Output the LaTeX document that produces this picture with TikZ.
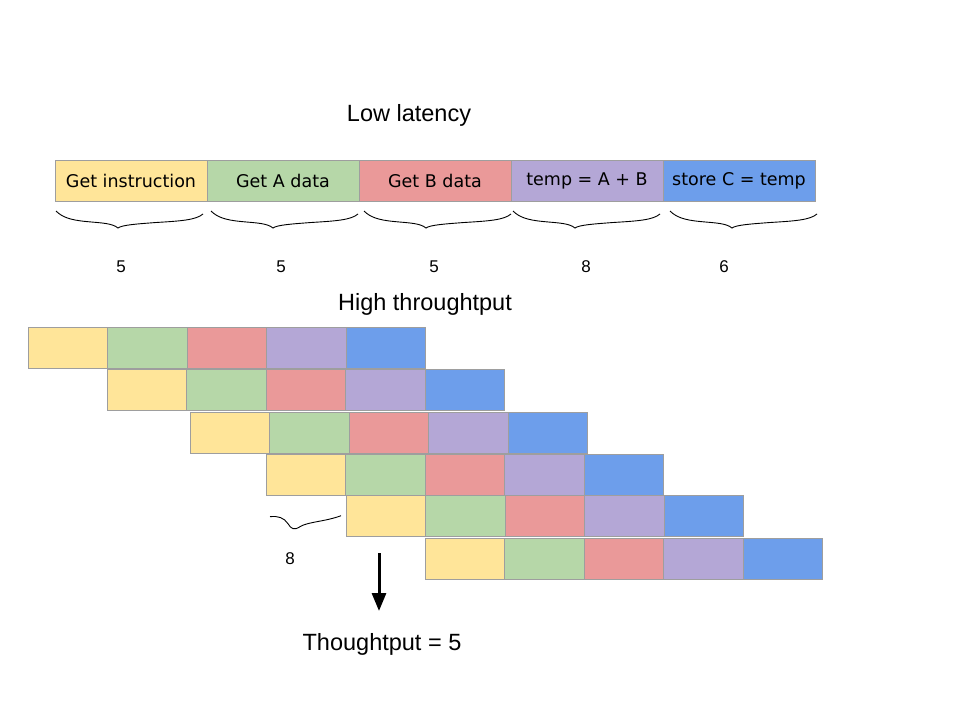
\documentclass[tikz,border=0pt]{standalone}
\usepackage{fontspec}
\setmainfont{Liberation Sans}
\newfontfamily\boxfont{DejaVu Sans}
\usepackage{tikz}
\usetikzlibrary{arrows.meta, positioning}
\definecolor{stageyellow}{HTML}{FFE599}
\definecolor{stagegreen}{HTML}{B6D7A8}
\definecolor{stagered}{HTML}{EA9999}
\definecolor{stagepurple}{HTML}{B4A7D6}
\definecolor{stageblue}{HTML}{6D9EEB}
\definecolor{edgegray}{HTML}{9E9E9E}

\begin{document}
\begin{tikzpicture}[
    x=1pt, y=-1pt,
    node distance=0pt,
    stagebox/.style={rectangle, draw=edgegray, line width=0.8pt, outer sep=0pt, inner sep=0pt, minimum width=152pt, minimum height=41pt, font=\boxfont\fontsize{17.5}{20}\selectfont},
    pipebox/.style={rectangle, draw=edgegray, line width=0.8pt, outer sep=0pt, inner sep=0pt, minimum width=79.5pt, minimum height=41.5pt, anchor=north west},
    brace/.style={line width=0.9pt, black},
    title/.style={font=\fontsize{23.5}{28}\selectfont},
    count/.style={font=\fontsize{17}{20}\selectfont},
    arrow/.style={-{Triangle[length=18pt,width=14pt]}, line width=3pt}
]
\useasboundingbox (0,0) rectangle (960,720);

% low latency: one instruction after the other
\node[title] (lowlat) at (409,115) {Low latency};

\node[stagebox, fill=stageyellow, anchor=north west] (s1) at (55,160) {Get instruction};
\node[stagebox, fill=stagegreen, right=of s1] (s2) {Get A data};
\node[stagebox, fill=stagered, right=of s2] (s3) {Get B data};
\node[stagebox, fill=stagepurple, right=of s3] (s4) {temp = A + B};
\node[stagebox, fill=stageblue, right=of s4] (s5) {store C = temp};

\foreach \bx in {56,211,364,513,670} {
    \draw[brace, shift={(\bx,211)}] (0,0) .. controls (6,6) and (14,9) .. (30,10.5)
        .. controls (45,12) and (56,12) .. (62,17)
        .. controls (66,14) and (80,13) .. (100,11.5)
        .. controls (125,10) and (140,9) .. (147,3);
}

\node[count] (n1) at (121,267) {5};
\node[count] (n2) at (281,267) {5};
\node[count] (n3) at (434,267) {5};
\node[count] (n4) at (586,267) {8};
\node[count] (n5) at (724,267) {6};

% high throughput: pipelined rows
\node[title] (highthr) at (425,304) {High throughtput};

\foreach \x/\y [count=\r] in {28/327, 107/369, 190/412, 266/454, 346/495, 425/538} {
    \foreach \c [count=\k] in {stageyellow, stagegreen, stagered, stagepurple, stageblue} {
        \node[pipebox, fill=\c] (p\r\k) at ({\x+79.5*(\k-1)}, \y) {};
    }
}

\draw[brace, shift={(270,516.7)}] (0,0) .. controls (8,-1) and (14,1) .. (18,7)
    .. controls (21,12) and (24,14) .. (30,10)
    .. controls (38,5) and (55,5) .. (71,-1);
\node[count] (n8) at (290,559) {8};

\coordinate (arrtop) at (379,553);
\coordinate (arrbot) at (379,611);
\draw[arrow] (arrtop) -- (arrbot);

\node[title] (tput) at (382,644) {Thoughtput = 5};

\end{tikzpicture}
\end{document}
